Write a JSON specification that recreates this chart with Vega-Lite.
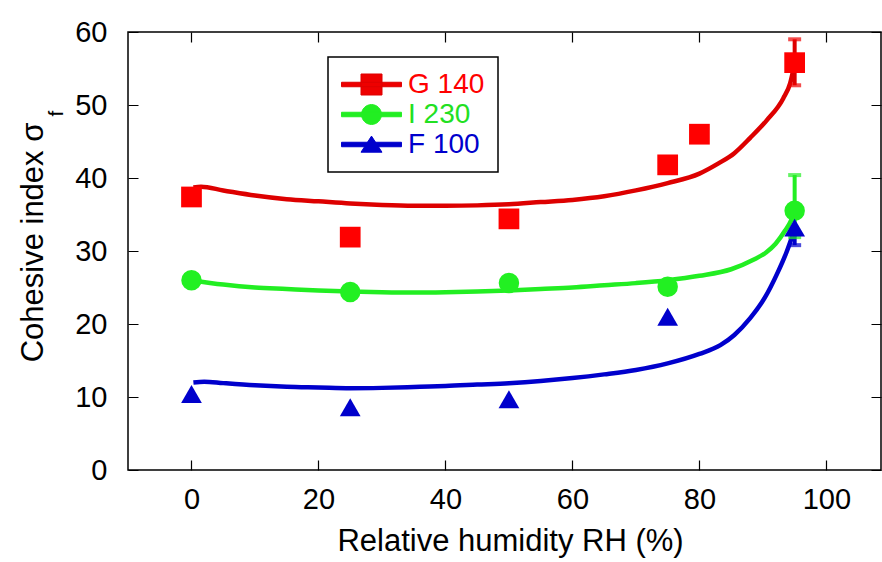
{
  "$schema": "https://vega.github.io/schema/vega-lite/v6.json",
  "width": 753,
  "height": 438,
  "autosize": "none",
  "padding": {"left": 128, "top": 32, "right": 1, "bottom": 92},
  "background": "white",
  "config": {
    "view": {"stroke": "black", "strokeWidth": 1.5},
    "axis": {
      "labelFont": "Liberation Sans",
      "labelFontSize": 29,
      "labelColor": "black",
      "titleFont": "Liberation Sans",
      "titleFontSize": 31,
      "titleFontWeight": "normal",
      "titleColor": "black"
    }
  },
  "datasets": {
    "curves": [
      {"series": "G 140", "x": 0.3, "y": 38.7}, {"series": "G 140", "x": 1.5, "y": 38.8}, {"series": "G 140", "x": 5, "y": 38.3},
      {"series": "G 140", "x": 10, "y": 37.6}, {"series": "G 140", "x": 15, "y": 37.1}, {"series": "G 140", "x": 20, "y": 36.8},
      {"series": "G 140", "x": 25, "y": 36.5}, {"series": "G 140", "x": 30, "y": 36.3}, {"series": "G 140", "x": 35, "y": 36.2},
      {"series": "G 140", "x": 40, "y": 36.2}, {"series": "G 140", "x": 45, "y": 36.25}, {"series": "G 140", "x": 50, "y": 36.4},
      {"series": "G 140", "x": 55, "y": 36.7}, {"series": "G 140", "x": 60, "y": 37.0}, {"series": "G 140", "x": 65, "y": 37.5},
      {"series": "G 140", "x": 70, "y": 38.3}, {"series": "G 140", "x": 75, "y": 39.3}, {"series": "G 140", "x": 80, "y": 40.6},
      {"series": "G 140", "x": 83, "y": 42.0}, {"series": "G 140", "x": 85.5, "y": 43.4}, {"series": "G 140", "x": 88, "y": 45.5},
      {"series": "G 140", "x": 90.6, "y": 47.9}, {"series": "G 140", "x": 93.2, "y": 50.9}, {"series": "G 140", "x": 94.3, "y": 53.0},
      {"series": "G 140", "x": 95, "y": 55.7},
      {"series": "I 230", "x": 0, "y": 26.0}, {"series": "I 230", "x": 5, "y": 25.4}, {"series": "I 230", "x": 10, "y": 25.0},
      {"series": "I 230", "x": 15, "y": 24.8}, {"series": "I 230", "x": 20, "y": 24.6}, {"series": "I 230", "x": 25, "y": 24.45},
      {"series": "I 230", "x": 30, "y": 24.35}, {"series": "I 230", "x": 35, "y": 24.3}, {"series": "I 230", "x": 40, "y": 24.35},
      {"series": "I 230", "x": 45, "y": 24.45}, {"series": "I 230", "x": 50, "y": 24.6}, {"series": "I 230", "x": 55, "y": 24.8},
      {"series": "I 230", "x": 60, "y": 25.0}, {"series": "I 230", "x": 65, "y": 25.3}, {"series": "I 230", "x": 70, "y": 25.6},
      {"series": "I 230", "x": 75, "y": 26.0}, {"series": "I 230", "x": 80, "y": 26.6}, {"series": "I 230", "x": 85, "y": 27.5},
      {"series": "I 230", "x": 88.5, "y": 28.8}, {"series": "I 230", "x": 90.5, "y": 29.8}, {"series": "I 230", "x": 92, "y": 31.0},
      {"series": "I 230", "x": 93.5, "y": 32.8}, {"series": "I 230", "x": 94.5, "y": 34.3}, {"series": "I 230", "x": 95, "y": 35.5},
      {"series": "F 100", "x": 0.3, "y": 12.0}, {"series": "F 100", "x": 2, "y": 12.1}, {"series": "F 100", "x": 5, "y": 11.9},
      {"series": "F 100", "x": 10, "y": 11.6}, {"series": "F 100", "x": 15, "y": 11.4}, {"series": "F 100", "x": 20, "y": 11.3},
      {"series": "F 100", "x": 25, "y": 11.2}, {"series": "F 100", "x": 30, "y": 11.25}, {"series": "F 100", "x": 36, "y": 11.4},
      {"series": "F 100", "x": 40, "y": 11.5}, {"series": "F 100", "x": 45, "y": 11.7}, {"series": "F 100", "x": 50, "y": 11.9},
      {"series": "F 100", "x": 55, "y": 12.2}, {"series": "F 100", "x": 60, "y": 12.6}, {"series": "F 100", "x": 65, "y": 13.1},
      {"series": "F 100", "x": 70, "y": 13.7}, {"series": "F 100", "x": 75, "y": 14.6}, {"series": "F 100", "x": 80, "y": 15.9},
      {"series": "F 100", "x": 83.3, "y": 17.1}, {"series": "F 100", "x": 85.5, "y": 18.5}, {"series": "F 100", "x": 88, "y": 20.8},
      {"series": "F 100", "x": 90.3, "y": 23.6}, {"series": "F 100", "x": 92.3, "y": 27.0}, {"series": "F 100", "x": 93.7, "y": 29.8},
      {"series": "F 100", "x": 95, "y": 33.0}
    ],
    "points": [
      {"series": "G 140", "x": 0, "y": 37.4}, {"series": "G 140", "x": 25, "y": 31.9}, {"series": "G 140", "x": 50, "y": 34.4},
      {"series": "G 140", "x": 75, "y": 41.8}, {"series": "G 140", "x": 80, "y": 46.0}, {"series": "G 140", "x": 95, "y": 55.8},
      {"series": "I 230", "x": 0, "y": 26.0}, {"series": "I 230", "x": 25, "y": 24.4}, {"series": "I 230", "x": 50, "y": 25.6},
      {"series": "I 230", "x": 75, "y": 25.1}, {"series": "I 230", "x": 95, "y": 35.5},
      {"series": "F 100", "x": 0, "y": 10.4}, {"series": "F 100", "x": 25, "y": 8.6}, {"series": "F 100", "x": 50, "y": 9.7},
      {"series": "F 100", "x": 75, "y": 21.0}, {"series": "F 100", "x": 95, "y": 33.2}
    ],
    "errors": [
      {"series": "G 140", "x": 95, "lo": 52.7, "hi": 59.0},
      {"series": "I 230", "x": 95, "lo": 31.9, "hi": 40.4},
      {"series": "F 100", "x": 95, "lo": 30.8, "hi": 33.5}
    ],
    "caps": [
      {"series": "G 140", "x": 95, "y": 59.0}, {"series": "G 140", "x": 95, "y": 52.7},
      {"series": "I 230", "x": 95, "y": 40.4}, {"series": "I 230", "x": 95, "y": 31.9},
      {"series": "F 100", "x": 95, "y": 30.8}
    ]
  },
  "layer": [
    {
      "data": {"name": "curves"},
      "mark": {"type": "line", "strokeWidth": 4.5, "interpolate": "monotone", "clip": true},
      "encoding": {
        "x": {"field": "x", "type": "quantitative", "scale": {"domain": [-10, 108.6], "nice": false, "zero": false},
              "axis": {"orient": "bottom", "values": [0, 20, 40, 60, 80, 100], "title": "Relative humidity RH (%)", "labelPadding": 15,
                       "domain": false, "ticks": false,
                       "grid": true, "gridColor": "black", "gridWidth": 1.2, "gridOpacity": 1, "gridDash": [10, 418, 10],
                       "titleX": 382, "titleY": 80, "titleBaseline": "alphabetic", "titleAlign": "center"}},
        "y": {"field": "y", "type": "quantitative", "scale": {"domain": [0, 60], "nice": false},
              "axis": {"orient": "left", "values": [0, 10, 20, 30, 40, 50, 60], "title": "Cohesive index σ", "labelPadding": 21,
                       "domain": false, "ticks": false,
                       "grid": true, "gridColor": "black", "gridWidth": 1.2, "gridOpacity": 1, "gridDash": [10, 733, 10],
                       "titleX": -86, "titleY": 210, "titleBaseline": "alphabetic", "titleAlign": "center"}},
        "stroke": {"field": "series", "type": "nominal", "scale": {"domain": ["G 140", "I 230", "F 100"], "range": ["#dd0000", "#22ee22", "#0000cc"]},
          "legend": {
            "orient": "none", "legendX": 200, "legendY": 25, "title": null,
            "strokeColor": "black", "fillColor": "white", "padding": 13,
            "labelFont": "Liberation Sans", "labelFontSize": 28, "labelOffset": 22,
            "symbolSize": 784, "symbolOffset": 16, "rowPadding": 1,
            "encode": {
              "legend": {"update": {"strokeWidth": {"value": 1.5}}},
              "labels": {"update": {"fill": {"signal": "datum.value === 'G 140' ? '#ff0000' : datum.value === 'I 230' ? '#22e022' : '#0000cc'"}}},
              "symbols": {"update": {
                "shape": {"signal": "datum.value === 'G 140' ? 'M-2.14,-0.16H2.14V0.16H-2.14Z M-0.75,-0.75H0.75V0.75H-0.75Z' : datum.value === 'I 230' ? 'M-2.14,-0.16H2.14V0.16H-2.14Z M-0.71,0A0.71,0.71 0 1 1 0.71,0A0.71,0.71 0 1 1 -0.71,0Z' : 'M-2.14,-0.16H2.14V0.16H-2.14Z M0,-0.6L0.75,0.55L-0.75,0.55Z'"},
                "size": {"value": 784},
                "strokeWidth": {"value": 1},
                "opacity": {"value": 1},
                "stroke": {"signal": "datum.value === 'G 140' ? '#ee0000' : datum.value === 'I 230' ? '#22f022' : '#0000cc'"},
                "fill": {"signal": "datum.value === 'G 140' ? '#ee0000' : datum.value === 'I 230' ? '#22f022' : '#0000cc'"}
              }}
            }
          }},
        "detail": {"field": "series"}
      }
    },
    {
      "data": {"name": "errors"},
      "mark": {"type": "rule", "strokeWidth": 4},
      "encoding": {
        "x": {"field": "x", "type": "quantitative", "axis": null},
        "y": {"field": "lo", "type": "quantitative", "axis": null},
        "y2": {"field": "hi"},
        "stroke": {"field": "series", "type": "nominal"}
      }
    },
    {
      "data": {"name": "caps"},
      "mark": {"type": "tick", "orient": "horizontal", "size": 13, "thickness": 4},
      "encoding": {
        "x": {"field": "x", "type": "quantitative", "axis": null},
        "y": {"field": "y", "type": "quantitative", "axis": {"orient": "left", "labels": false, "ticks": false, "domain": false, "grid": false, "title": "f",
              "titleFontSize": 21, "titleX": -66, "titleY": 81, "titleBaseline": "alphabetic", "titleAlign": "center"}},
        "fill": {"field": "series", "type": "nominal", "scale": {"domain": ["G 140", "I 230", "F 100"], "range": ["#ee0000", "#22ee22", "#0000cc"]}, "legend": null}
      }
    },
    {
      "data": {"name": "points"},
      "transform": [{"filter": "datum.series === 'G 140'"}],
      "mark": {"type": "point", "shape": "square", "filled": true, "opacity": 1, "size": 430, "strokeWidth": 0, "color": "#ff0000"},
      "encoding": {
        "x": {"field": "x", "type": "quantitative", "axis": null},
        "y": {"field": "y", "type": "quantitative", "axis": null}
      }
    },
    {
      "data": {"name": "points"},
      "transform": [{"filter": "datum.series === 'I 230'"}],
      "mark": {"type": "point", "shape": "circle", "filled": true, "opacity": 1, "size": 420, "strokeWidth": 0, "color": "#22f022"},
      "encoding": {
        "x": {"field": "x", "type": "quantitative", "axis": null},
        "y": {"field": "y", "type": "quantitative", "axis": null}
      }
    },
    {
      "data": {"name": "points"},
      "transform": [{"filter": "datum.series === 'F 100'"}],
      "mark": {"type": "point", "shape": "triangle-up", "filled": true, "opacity": 1, "size": 430, "strokeWidth": 0, "color": "#0000cc"},
      "encoding": {
        "x": {"field": "x", "type": "quantitative", "axis": null},
        "y": {"field": "y", "type": "quantitative", "axis": null}
      }
    }
  ],
  "resolve": {"axis": {"x": "independent", "y": "independent"}}
}
